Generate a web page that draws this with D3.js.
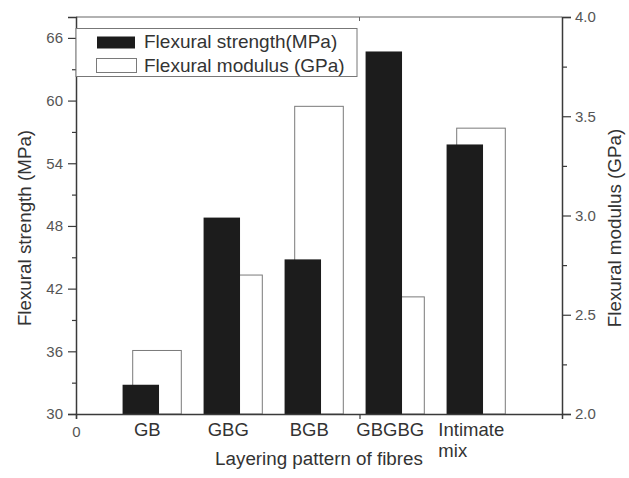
<!DOCTYPE html>
<html>
<head>
<meta charset="utf-8">
<script src="https://cdn.jsdelivr.net/npm/d3@7"></script>
<style>
  html, body { margin: 0; padding: 0; background: #fff; }
  svg { display: block; font-family: "Liberation Sans", Arial, sans-serif; }
</style>
</head>
<body>
<svg id="chart" width="629" height="478"></svg>
<script>
// ---- data ----
const categories = ["GB", "GBG", "BGB", "GBGBG", "Intimate mix"];
const strengthMPa = [32.8, 48.8, 44.8, 64.7, 55.8];
const modulusGPa = [2.32, 2.70, 3.55, 2.59, 3.44];
const leftTicks = [30, 36, 42, 48, 54, 60, 66];
const leftMinorTicks = [33, 39, 45, 51, 57, 63];
const rightTicks = [2.0, 2.5, 3.0, 3.5, 4.0];
const rightMinorTicks = [2.25, 2.75, 3.25, 3.75];
const xTicks = [0, 3.5];
const xTickLabels = ["0", ""];
const seriesNames = ["Flexural strength(MPa)", "Flexural modulus (GPa)"];

// ---- layout ----
const W = 629, H = 478;
const m = { left: 76, right: 67, top: 17, bottom: 64 };
const svg = d3.select("#chart");
const axisColor = "#3a3a3a";
const textColor = "#333";

const x = d3.scaleLinear().domain([0, 6]).range([m.left, W - m.right]);
const yL = d3.scaleLinear().domain([30, 68]).range([H - m.bottom, m.top]);
const yR = d3.scaleLinear().domain([2, 4]).range([H - m.bottom, m.top]);

const whiteW = 0.6, blackW = 0.45, blackShift = -0.2;

// modulus bars (white, behind)
svg.append("g").selectAll("rect").data(modulusGPa).join("rect")
  .attr("x", (d, i) => x(i + 1 - whiteW / 2))
  .attr("width", x(whiteW) - x(0))
  .attr("y", d => yR(d))
  .attr("height", d => yR(2) - yR(d))
  .attr("fill", "#fff").attr("stroke", "#7a7a7a").attr("stroke-width", 1);

// strength bars (black, front)
svg.append("g").selectAll("rect").data(strengthMPa).join("rect")
  .attr("x", (d, i) => x(i + 1 + blackShift - blackW / 2))
  .attr("width", x(blackW) - x(0))
  .attr("y", d => yL(d))
  .attr("height", d => yL(30) - yL(d))
  .attr("fill", "#1c1c1c");

// top frame
svg.append("line")
  .attr("x1", x(0)).attr("x2", x(6)).attr("y1", yL(68)).attr("y2", yL(68))
  .attr("stroke", "#666").attr("stroke-width", 1.2);
svg.append("g").selectAll("line").data(xTicks.filter(t => t > 0)).join("line")
  .attr("x1", d => x(d)).attr("x2", d => x(d))
  .attr("y1", yL(68)).attr("y2", yL(68) + 4)
  .attr("stroke", "#666");

function styleAxis(g) {
  g.selectAll(".domain").attr("stroke", axisColor).attr("stroke-width", 1.5);
  g.selectAll(".tick line").attr("stroke", axisColor).attr("stroke-width", 1.2);
  g.selectAll(".tick text").attr("fill", "#555").style("font-size", "15px");
}

// left axis
svg.append("g").attr("transform", `translate(${m.left},0)`)
  .call(d3.axisLeft(yL).tickValues(leftTicks).tickSize(8).tickPadding(5).tickFormat(d3.format("d")))
  .call(styleAxis);
svg.append("g").attr("transform", `translate(${m.left},0)`)
  .call(d3.axisLeft(yL).tickValues(leftMinorTicks).tickSize(4).tickFormat(""))
  .call(styleAxis).select(".domain").remove();

// right axis
svg.append("g").attr("transform", `translate(${W - m.right},0)`)
  .call(d3.axisRight(yR).tickValues(rightTicks).tickSize(9).tickPadding(4).tickFormat(d3.format(".1f")))
  .call(styleAxis);
svg.append("g").attr("transform", `translate(${W - m.right},0)`)
  .call(d3.axisRight(yR).tickValues(rightMinorTicks).tickSize(5).tickFormat(""))
  .call(styleAxis).select(".domain").remove();

// bottom axis
svg.append("g").attr("transform", `translate(0,${H - m.bottom})`)
  .call(d3.axisBottom(x).tickValues(xTicks).tickSize(5).tickPadding(7).tickFormat((d, i) => xTickLabels[i]))
  .call(styleAxis);

// category labels
const catG = svg.append("g").attr("fill", textColor).style("font-size", "18.5px");
categories.forEach((c, i) => {
  const words = c.split(" ");
  const cx = x(i + 1 - 0.12);
  if (words.length === 1) {
    catG.append("text").attr("x", cx).attr("y", 436).attr("text-anchor", "middle").text(c);
  } else {
    const t = catG.append("text").attr("y", 436);
    const first = t.append("tspan").text(words[0]);
    const w = first.node().getComputedTextLength();
    first.attr("x", cx - w / 2);
    t.append("tspan").attr("x", cx - w / 2).attr("dy", 21).text(words.slice(1).join(" "));
  }
});

// axis titles
svg.append("text").attr("x", (x(0) + x(6)) / 2).attr("y", 465)
  .attr("text-anchor", "middle").attr("fill", textColor).style("font-size", "18.8px")
  .text("Layering pattern of fibres");
svg.append("text").attr("transform", `translate(31,228) rotate(-90)`)
  .attr("text-anchor", "middle").attr("fill", textColor).style("font-size", "18.8px")
  .text("Flexural strength (MPa)");
svg.append("text").attr("transform", `translate(621,228) rotate(-90)`)
  .attr("text-anchor", "middle").attr("fill", textColor).style("font-size", "18.8px")
  .text("Flexural modulus (GPa)");

// legend
const lg = svg.append("g");
lg.append("rect").attr("x", m.left).attr("y", 28.5).attr("width", 281).attr("height", 48)
  .attr("fill", "#fff").attr("stroke", "#777").attr("stroke-width", 1);
lg.append("rect").attr("x", 97).attr("y", 36.5).attr("width", 38).attr("height", 12).attr("fill", "#1c1c1c");
lg.append("rect").attr("x", 96.5).attr("y", 58.5).attr("width", 40).attr("height", 14)
  .attr("fill", "#fff").attr("stroke", "#7a7a7a");
lg.selectAll("text").data(seriesNames).join("text")
  .attr("x", 144).attr("y", (d, i) => 48 + i * 23.5)
  .attr("fill", textColor).style("font-size", "19px").text(d => d);
</script>
</body>
</html>
